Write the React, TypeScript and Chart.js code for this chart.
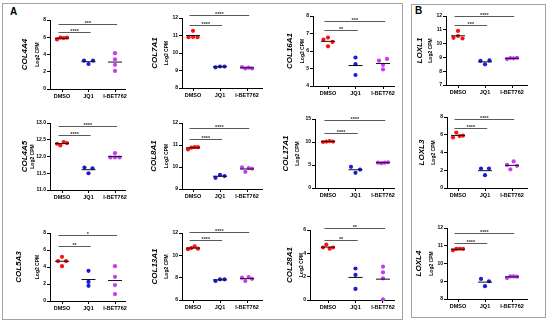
import React, { useEffect, useRef } from 'react';
import { Chart, registerables } from 'chart.js';

Chart.register(...registerables);

// ---------------- DATA ----------------
const categories = ['DMSO', 'JQ1', 'I-BET762'];
const genes = ['COL4A4', 'COL7A1', 'COL16A1', 'LOXL1', 'COL4A5', 'COL8A1', 'COL17A1', 'LOXL3', 'COL5A3', 'COL13A1', 'COL28A1', 'LOXL4'];

const dmsoValues: number[][] = [
  [5.75, 5.95, 5.9, 5.95],
  [10.9, 10.92, 10.9, 11.27],
  [6.65, 6.27, 6.77, 6.52],
  [10.42, 10.55, 10.37, 10.92],
  [12.38, 12.33, 12.43, 12.4],
  [10.8, 10.88, 10.9, 10.9],
  [10.0, 10.1, 10.2, 10.1],
  [5.7, 6.25, 5.85, 5.9],
  [4.7, 5.2, 4.7, 4.1],
  [10.55, 10.65, 10.8, 10.6],
  [4.5, 4.75, 4.4, 4.5],
  [10.74, 10.82, 10.83, 10.82],
];
const jq1Values: number[][] = [
  [3.3, 2.9, 3.3],
  [9.18, 9.23, 9.23],
  [5.63, 5.25, 4.63],
  [8.75, 8.5, 8.78],
  [11.67, 11.5, 11.65],
  [9.51, 9.64, 9.59],
  [4.6, 3.3, 4.0],
  [2.2, 1.45, 2.2],
  [3.55, 2.25, 1.78],
  [7.7, 7.85, 7.85],
  [2.7, 2.15, 0.95],
  [9.13, 8.72, 9.0],
];
const ibetValues: number[][] = [
  [4.15, 3.45, 2.8, 2.1],
  [9.2, 9.12, 9.17, 9.12],
  [5.45, 5.55, 5.2, 4.95],
  [8.88, 8.95, 8.93, 8.97],
  [11.97, 12.1, 11.97, 11.97],
  [9.98, 9.78, 9.95, 9.93],
  [5.5, 5.4, 5.5, 5.6],
  [2.6, 2.1, 3.0, 2.5],
  [4.1, 2.84, 1.87, 0.82],
  [8.0, 7.7, 8.05, 7.9],
  [2.86, 2.37, 1.86, 0.06],
  [9.18, 9.27, 9.27, 9.26],
];

// significance annotations: DMSO vs JQ1, DMSO vs I-BET762
const sigJq1 = ['****', '****', '**', '***', '****', '****', '****', '****', '**', '****', '**', '****'];
const sigIbet = ['***', '****', '***', '****', '****', '****', '****', '****', '*', '****', '**', '****'];
const sigJq1Y = [6.6, 11.62, 7.19, 11.33, 12.63, 11.26, 11.96, 6.76, 6.48, 11.33, 5.14, 11.15];
const sigIbetY = [7.5, 12.19, 7.7, 12.0, 12.9, 11.76, 14.85, 7.82, 7.81, 12.05, 6.15, 11.72];

// y-axis tick specs
const yMins = [0, 8, 4, 7, 11, 9, 0, 0, 0, 6, 0, 8];
const yMaxs = [8, 12, 8, 12, 13, 12, 15, 8, 8, 12, 6, 12];
const ySteps = [2, 1, 1, 1, 0.5, 1, 5, 2, 2, 2, 2, 1];
const yDecimals = [0, 0, 0, 0, 1, 0, 0, 0, 0, 0, 0, 0];

// ---------------- STYLE / LAYOUT ----------------
const groupColors = ['#ff1010', '#1c1cd8', '#c63cf2'];
const FONT = "'Liberation Sans', Arial, Helvetica, sans-serif";

const columns = [
  { left: 4, right: 135, cat0: 62, sp: 26.5, xEnd: 125 },
  { left: 136, right: 272, cat0: 193, sp: 27, xEnd: 262 },
  { left: 273, right: 401, cat0: 328, sp: 27.5, xEnd: 394 },
  { left: 412, right: 543, cat0: 458, sp: 27, xEnd: 527 },
];
const rows = [
  { top: 4, bottom: 104 },
  { top: 106, bottom: 206 },
  { top: 208, bottom: 314 },
];
const layouts = [
  { col: 0, row: 0, axisX: 50, yTop: 20, yBottom: 89, titleOff: -12, geneOff: -25 },
  { col: 1, row: 0, axisX: 182, yTop: 18, yBottom: 88, titleOff: -15, geneOff: -27 },
  { col: 2, row: 0, axisX: 313, yTop: 16, yBottom: 86, titleOff: -10, geneOff: -23 },
  { col: 3, row: 0, axisX: 446, yTop: 16, yBottom: 85, titleOff: -15, geneOff: -26 },
  { col: 0, row: 1, axisX: 50, yTop: 123, yBottom: 190, titleOff: -17, geneOff: -25 },
  { col: 1, row: 1, axisX: 182, yTop: 123, yBottom: 189, titleOff: -15, geneOff: -28 },
  { col: 2, row: 1, axisX: 315, yTop: 119, yBottom: 188, titleOff: -17, geneOff: -29 },
  { col: 3, row: 1, axisX: 447, yTop: 117, yBottom: 188, titleOff: -13, geneOff: -25 },
  { col: 0, row: 2, axisX: 50, yTop: 233, yBottom: 301, titleOff: -12, geneOff: -31 },
  { col: 1, row: 2, axisX: 182, yTop: 233, yBottom: 300, titleOff: -15, geneOff: -27 },
  { col: 2, row: 2, axisX: 310, yTop: 230, yBottom: 300, titleOff: -8, geneOff: -20 },
  { col: 3, row: 2, axisX: 447, yTop: 228, yBottom: 299, titleOff: -15, geneOff: -28 },
];

// horizontal spread (px) of points that would overlap vertically
function swarmOffsets(vals: number[], pxPerUnit: number): number[] {
  const thr = 3.9;
  const idx = vals.map((v, i) => i).sort((a, b) => vals[a] - vals[b]);
  const clusters: number[][] = [];
  let cur: number[] = [];
  idx.forEach((i, k) => {
    if (k === 0 || (vals[i] - vals[idx[k - 1]]) * pxPerUnit < thr) cur.push(i);
    else { clusters.push(cur); cur = [i]; }
  });
  if (cur.length) clusters.push(cur);
  const offs = vals.map(() => 0);
  clusters.forEach((c) => {
    if (c.length < 2) return;
    const members = [...c].sort((a, b) => a - b);
    const w = 8 + (members.length - 2) * 1;
    members.forEach((m, j) => {
      offs[m] = -w / 2 + (w * j) / (members.length - 1);
    });
  });
  return offs;
}

function Panel({ idx }: { idx: number }) {
  const ref = useRef<HTMLCanvasElement>(null);
  const L = layouts[idx];
  const col = columns[L.col];
  const row = rows[L.row];
  const width = col.right - col.left;
  const height = row.bottom - row.top;

  useEffect(() => {
    if (!ref.current) return;
    const yPx = (L.yBottom - L.yTop) / (yMaxs[idx] - yMins[idx]);
    const groups = [dmsoValues[idx], jq1Values[idx], ibetValues[idx]];
    const datasets: any[] = [];
    groups.forEach((vals, g) => {
      const offs = swarmOffsets(vals, yPx);
      datasets.push({
        type: 'scatter',
        data: vals.map((v, i) => ({ x: g + offs[i] / col.sp, y: v })),
        backgroundColor: groupColors[g],
        borderWidth: 0,
        pointRadius: 2.1,
        order: 2,
        clip: false,
      });
      const mean = vals.reduce((a, b) => a + b, 0) / vals.length;
      const hw = 7 / col.sp;
      datasets.push({
        type: 'scatter',
        showLine: true,
        data: [{ x: g - hw, y: mean }, { x: g + hw, y: mean }],
        borderColor: '#111',
        borderWidth: 1,
        pointRadius: 0,
        order: 1,
        clip: false,
      });
    });

    const xmin = (L.axisX - col.cat0) / col.sp;
    const xmax = (col.xEnd - col.cat0) / col.sp;

    const annot = {
      id: 'annot' + idx,
      afterDatasetsDraw(chart: any) {
        const { ctx, chartArea } = chart;
        const xs = chart.scales.x;
        const ys = chart.scales.y;
        ctx.save();
        const bars: [number, number, string][] = [
          [1, sigJq1Y[idx], sigJq1[idx]],
          [2, sigIbetY[idx], sigIbet[idx]],
        ];
        bars.forEach(([g, yv, label]) => {
          const x0 = xs.getPixelForValue(-0.13);
          const x1 = xs.getPixelForValue(g + 0.08);
          const yp = Math.round(ys.getPixelForValue(yv)) + 0.5;
          ctx.strokeStyle = '#5a5a5a';
          ctx.lineWidth = 1;
          ctx.beginPath();
          ctx.moveTo(x0, yp);
          ctx.lineTo(x1, yp);
          ctx.stroke();
          ctx.fillStyle = '#333';
          ctx.font = `bold 5.5px ${FONT}`;
          ctx.textAlign = 'center';
          ctx.textBaseline = 'alphabetic';
          ctx.fillText(label, (x0 + x1) / 2, yp + 0.8);
        });
        const midY = (chartArea.top + chartArea.bottom) / 2;
        ctx.fillStyle = '#000';
        ctx.textAlign = 'center';
        ctx.textBaseline = 'middle';
        ctx.save();
        ctx.translate(chartArea.left + L.titleOff, midY);
        ctx.rotate(-Math.PI / 2);
        ctx.font = `bold 5px ${FONT}`;
        ctx.fillText('Log2 CPM', 0, 0);
        ctx.restore();
        ctx.save();
        ctx.translate(chartArea.left + L.geneOff, midY);
        ctx.rotate(-Math.PI / 2);
        ctx.font = `italic bold 8px ${FONT}`;
        ctx.fillText(genes[idx], 0, 0);
        ctx.restore();
        ctx.restore();
      },
    };

    const tickFont = { size: 5.5, weight: 'bold' as const, family: FONT };
    const chart = new Chart(ref.current, {
      type: 'scatter',
      data: { datasets },
      options: {
        responsive: false,
        animation: false,
        devicePixelRatio: 1,
        layout: {
          padding: { top: L.yTop - row.top, right: col.right - col.xEnd, left: 0, bottom: 0 },
        },
        plugins: { legend: { display: false }, tooltip: { enabled: false } },
        scales: {
          x: {
            type: 'linear',
            min: xmin,
            max: xmax,
            afterBuildTicks: (s: any) => {
              s.ticks = [0, 1, 2].map((v) => ({ value: v }));
            },
            afterFit: (s: any) => {
              s.height = row.bottom - L.yBottom;
            },
            ticks: {
              autoSkip: false,
              maxRotation: 0,
              padding: 1,
              color: '#000',
              font: tickFont,
              callback: (v: any) => categories[v as number] ?? '',
            },
            grid: { drawOnChartArea: false, drawTicks: true, tickLength: 3, color: '#000', lineWidth: 1 },
            border: { display: true, color: '#000', width: 1 },
          },
          y: {
            type: 'linear',
            min: yMins[idx],
            max: yMaxs[idx],
            afterFit: (s: any) => {
              s.width = L.axisX - col.left;
            },
            ticks: {
              stepSize: ySteps[idx],
              padding: 1,
              color: '#000',
              font: { size: 5, weight: 'bold' as const, family: FONT },
              callback: (v: any) => Number(v).toFixed(yDecimals[idx]),
            },
            grid: { drawOnChartArea: false, drawTicks: true, tickLength: 3, color: '#000', lineWidth: 1 },
            border: { display: true, color: '#000', width: 1 },
          },
        },
      } as any,
      plugins: [annot],
    });
    return () => chart.destroy();
  }, []);

  return (
    <canvas
      ref={ref}
      width={width}
      height={height}
      style={{ position: 'absolute', left: col.left, top: row.top, width, height }}
    />
  );
}

export default function App() {
  return (
    <div
      style={{
        position: 'absolute',
        left: 0,
        top: 0,
        width: 550,
        height: 324,
        background: '#fff',
        overflow: 'hidden',
        fontFamily: FONT,
      }}
    >
      <div style={{ position: 'absolute', left: 2, top: 3, width: 399, height: 315, border: '1px solid #a3a3a3' }} />
      <div style={{ position: 'absolute', left: 411, top: 4, width: 133, height: 312, border: '1px solid #a3a3a3' }} />
      <div style={{ position: 'absolute', left: 10, top: 7, fontSize: 10, fontWeight: 'bold', lineHeight: '10px' }}>A</div>
      <div style={{ position: 'absolute', left: 415, top: 6, fontSize: 10, fontWeight: 'bold', lineHeight: '10px' }}>B</div>
      {genes.map((g, i) => (
        <Panel key={g} idx={i} />
      ))}
    </div>
  );
}
